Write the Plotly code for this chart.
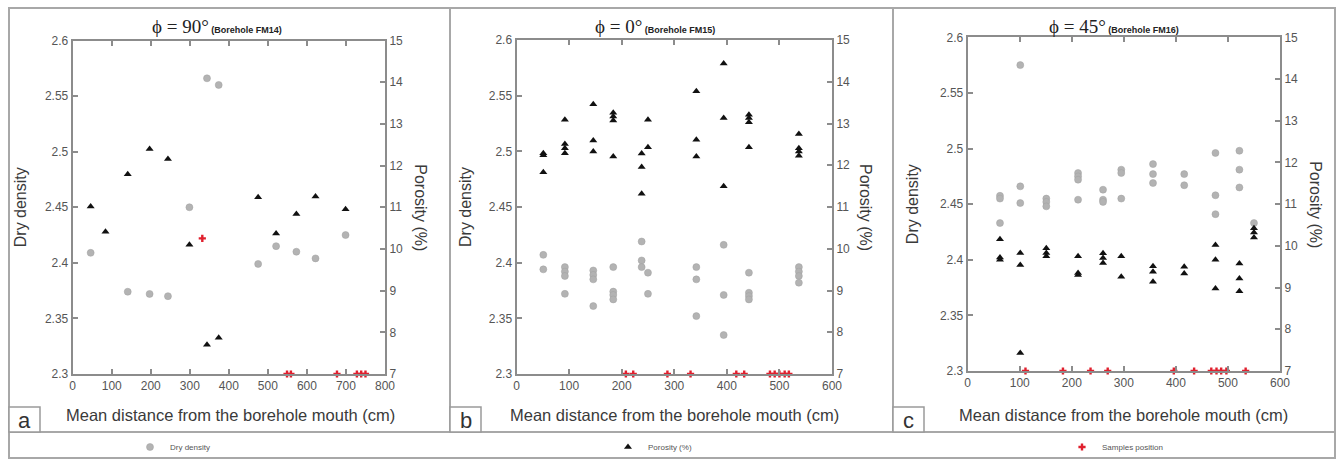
import plotly.graph_objects as go

# ---------------- data ----------------
# Borehole FM14 (phi = 90 deg)
a_density_dist = [46, 141, 197, 244, 299, 344, 374, 475, 521, 573, 622, 699]
a_density = [2.409, 2.374, 2.372, 2.370, 2.450, 2.566, 2.560, 2.399, 2.415, 2.410, 2.404, 2.425]
a_porosity_dist = [46, 84, 141, 197, 244, 299, 344, 374, 475, 521, 573, 622, 699]
a_porosity = [11.02, 10.41, 11.79, 12.40, 12.16, 10.10, 7.70, 7.87, 11.24, 10.37, 10.84, 11.26, 10.95]
a_samples_dist = [332, 549, 559, 677, 728, 739, 750]
a_samples_level = [2.422, 2.3, 2.3, 2.3, 2.3, 2.3, 2.3]

# Borehole FM15 (phi = 0 deg)
b_density_dist = [51, 51, 92, 92, 92, 92, 146, 146, 146, 146, 184, 184, 184, 184,
                  238, 238, 238, 250, 250, 342, 342, 342, 394, 394, 394,
                  442, 442, 442, 442, 537, 537, 537, 537]
b_density = [2.407, 2.394, 2.396, 2.392, 2.388, 2.372, 2.393, 2.389, 2.385, 2.361,
             2.396, 2.374, 2.371, 2.367, 2.419, 2.402, 2.396, 2.391, 2.372,
             2.396, 2.385, 2.352, 2.416, 2.371, 2.335,
             2.391, 2.373, 2.370, 2.367, 2.396, 2.392, 2.388, 2.382]
b_porosity_dist = [51, 51, 51, 92, 92, 92, 92, 146, 146, 146, 184, 184, 184, 184,
                   238, 238, 238, 250, 250, 342, 342, 342, 394, 394, 394,
                   442, 442, 442, 442, 537, 537, 537, 537]
b_porosity = [12.29, 12.24, 11.83, 13.09, 12.51, 12.41, 12.29, 13.46, 12.59, 12.33,
              13.26, 13.17, 13.07, 12.21, 12.28, 11.96, 11.32, 13.09, 12.43,
              13.77, 12.61, 12.21, 14.44, 13.13, 11.50,
              13.21, 13.13, 13.03, 12.43, 12.75, 12.41, 12.33, 12.23]
b_samples_dist = [208, 222, 287, 331, 418, 433, 482, 491, 500, 510, 518]
b_samples_level = [2.3] * len(b_samples_dist)

# Borehole FM16 (phi = 45 deg)
c_density_dist = [62, 62, 62, 101, 101, 101, 151, 151, 151, 212, 212, 212, 212,
                  260, 260, 260, 295, 295, 295, 356, 356, 356, 416, 416,
                  476, 476, 476, 522, 522, 522, 550]
c_density = [2.4575, 2.455, 2.433, 2.575, 2.466, 2.451, 2.455, 2.452, 2.448,
             2.478, 2.475, 2.472, 2.454, 2.463, 2.454, 2.452, 2.481, 2.478, 2.455,
             2.486, 2.477, 2.469, 2.477, 2.467, 2.496, 2.458, 2.441,
             2.498, 2.481, 2.465, 2.433]
c_porosity_dist = [62, 62, 62, 101, 101, 101, 151, 151, 151, 212, 212, 212,
                   260, 260, 260, 295, 295, 356, 356, 356, 416, 416,
                   476, 476, 476, 522, 522, 522, 550, 550, 550]
c_porosity = [10.16, 9.72, 9.67, 9.83, 9.54, 7.43, 9.94, 9.83, 9.75, 9.75, 9.35, 9.30,
              9.82, 9.71, 9.59, 9.75, 9.26, 9.51, 9.38, 9.14, 9.50, 9.34,
              10.02, 9.67, 8.98, 9.58, 9.22, 8.91, 10.42, 10.32, 10.20]
c_samples_dist = [111, 183, 236, 269, 396, 435, 468, 478, 487, 497, 534]
c_samples_level = [2.3] * len(c_samples_dist)

panel_angles = ["90", "0", "45"]
panel_boreholes = ["FM14", "FM15", "FM16"]
panel_letters = ["a", "b", "c"]
panel_xmax = [800, 600, 600]

density_ticks = [2.3, 2.35, 2.4, 2.45, 2.5, 2.55, 2.6]
porosity_ticks = [7, 8, 9, 10, 11, 12, 13, 14, 15]

series = [
    (a_density_dist, a_density, a_porosity_dist, a_porosity, a_samples_dist, a_samples_level),
    (b_density_dist, b_density, b_porosity_dist, b_porosity, b_samples_dist, b_samples_level),
    (c_density_dist, c_density, c_porosity_dist, c_porosity, c_samples_dist, c_samples_level),
]

# ---------------- layout geometry (pixels) ----------------
W, H = 1342, 461
# plot area of each panel: left, right, top, bottom
plot_px = [(72.7, 385, 40.5, 374), (516.5, 832, 40, 374), (967.7, 1280, 37.3, 371)]
# panel frames: left, right
frame_px = [(9, 450), (450, 893), (893, 1335)]
frame_top, frame_bottom, legend_bottom = 8, 432, 458
title_left = [150, 593, 1047]
title_y = 26
ytitle_left_x = [20, 465, 912]
ytitle_right_x = [421, 866, 1316]
xtitle_x = [230, 674, 1123]
legend_left = [130, 608, 1062]


def px(x):
    return x / W


def py(y):
    return 1 - y / H


AXIS_COLOR = "#8c8c8c"
TICK_FONT = dict(family="Liberation Sans, Arial, sans-serif", size=12, color="#555555")
TEXT_COLOR = "#3a3a3a"

fig = go.Figure()
layout = dict(
    width=W, height=H,
    margin=dict(l=0, r=0, t=0, b=0, autoexpand=False),
    paper_bgcolor="white", plot_bgcolor="white",
    showlegend=True,
    font=dict(family="Liberation Sans, Arial, sans-serif"),
)

annotations = []
shapes = []

for i in range(3):
    xn = "x" if i == 0 else f"x{i + 1}"
    yl = "y" if i == 0 else f"y{2 * i + 1}"
    yr = f"y{2 * i + 2}"
    xkey = "xaxis" if i == 0 else f"xaxis{i + 1}"
    ylkey = "yaxis" if i == 0 else f"yaxis{2 * i + 1}"
    yrkey = f"yaxis{2 * i + 2}"
    l, r, t, b = plot_px[i]

    layout[xkey] = dict(
        domain=[px(l), px(r)], range=[0, panel_xmax[i]], dtick=100, tick0=0,
        anchor=yl, showline=True, linecolor=AXIS_COLOR, linewidth=2, mirror="ticks",
        ticks="inside", ticklen=5, tickwidth=1.5, tickcolor=AXIS_COLOR,
        showgrid=False, zeroline=False, tickfont=TICK_FONT,
    )
    layout[ylkey] = dict(
        domain=[py(b), py(t)], range=[2.3, 2.6], tickvals=density_ticks,
        anchor=xn, showline=True, linecolor=AXIS_COLOR, linewidth=2,
        ticks="inside", ticklen=5, tickwidth=1.5, tickcolor=AXIS_COLOR,
        showgrid=False, zeroline=False, tickfont=TICK_FONT,
    )
    layout[yrkey] = dict(
        domain=[py(b), py(t)], range=[7, 15], tickvals=porosity_ticks,
        anchor=xn, overlaying=yl, side="right", showline=True,
        linecolor=AXIS_COLOR, linewidth=2,
        ticks="inside", ticklen=5, tickwidth=1.5, tickcolor=AXIS_COLOR,
        showgrid=False, zeroline=False, tickfont=TICK_FONT,
    )

    dd, dv, pd_, pv, sd, sv = series[i]
    first = i == 0
    fig.add_trace(go.Scatter(
        x=dd, y=dv, mode="markers", name="Dry density", legend="legend",
        showlegend=first, xaxis=xn, yaxis=yl, cliponaxis=False,
        marker=dict(symbol="circle", size=7, color="#b3b3b3",
                    line=dict(color="#a0a0a0", width=0.5)),
    ))
    fig.add_trace(go.Scatter(
        x=pd_, y=pv, mode="markers", name="Porosity (%)", legend="legend2",
        showlegend=first, xaxis=xn, yaxis=yr, cliponaxis=False,
        marker=dict(symbol="triangle-up", size=7, color="#111111"),
    ))
    fig.add_trace(go.Scatter(
        x=sd, y=sv, mode="markers", name="Samples position", legend="legend3",
        showlegend=first, xaxis=xn, yaxis=yl, cliponaxis=False,
        marker=dict(symbol="cross", size=6, color="#e0202e"),
    ))

    # panel title
    annotations.append(dict(
        x=px(title_left[i]), y=py(title_y), xref="paper", yref="paper",
        xanchor="left", yanchor="middle", showarrow=False,
        text=(f"<span style='font-family:Liberation Serif, Times New Roman, serif;"
              f"font-size:19px'>ϕ = {panel_angles[i]}°</span> "
              f"<b>(Borehole {panel_boreholes[i]})</b>"),
        font=dict(size=9, color="#222222", family="Liberation Sans, Arial, sans-serif"),
    ))
    # axis titles
    annotations.append(dict(
        x=px(ytitle_left_x[i]), y=py((t + b) / 2), xref="paper", yref="paper",
        text="Dry density", textangle=-90, showarrow=False,
        xanchor="center", yanchor="middle",
        font=dict(size=16, color=TEXT_COLOR),
    ))
    annotations.append(dict(
        x=px(ytitle_right_x[i]), y=py((t + b) / 2), xref="paper", yref="paper",
        text="Porosity (%)", textangle=90, showarrow=False,
        xanchor="center", yanchor="middle",
        font=dict(size=16, color=TEXT_COLOR),
    ))
    annotations.append(dict(
        x=px(xtitle_x[i]), y=py(415), xref="paper", yref="paper",
        text="Mean distance from the borehole mouth (cm)", showarrow=False,
        xanchor="center", yanchor="middle",
        font=dict(size=16.5, color=TEXT_COLOR),
    ))
    # panel letter box
    fl, fr = frame_px[i]
    shapes.append(dict(
        type="rect", xref="paper", yref="paper",
        x0=px(fl), x1=px(fl + 31), y0=py(frame_bottom), y1=py(407),
        line=dict(color="#9a9a9a", width=1.5), fillcolor="white",
    ))
    annotations.append(dict(
        x=px(fl + 15.5), y=py(420), xref="paper", yref="paper",
        text=panel_letters[i], showarrow=False, xanchor="center", yanchor="middle",
        font=dict(size=22, color="#333333"),
    ))
    # panel frame
    shapes.append(dict(
        type="rect", xref="paper", yref="paper", layer="below",
        x0=px(fl), x1=px(fr), y0=py(frame_bottom), y1=py(frame_top),
        line=dict(color="#a8a8a8", width=2),
    ))

# legend strip frame
shapes.append(dict(
    type="rect", xref="paper", yref="paper", layer="below",
    x0=px(9), x1=px(1335), y0=py(legend_bottom), y1=py(frame_bottom),
    line=dict(color="#a8a8a8", width=2),
))

layout["annotations"] = annotations
layout["shapes"] = shapes
for k, key in enumerate(["legend", "legend2", "legend3"]):
    layout[key] = dict(
        orientation="h", x=px(legend_left[k]), y=py(447),
        xanchor="left", yanchor="middle",
        font=dict(size=8, color="#555555"), bgcolor="rgba(0,0,0,0)",
        itemwidth=30,
    )

fig.update_layout(**layout)
fig.write_html("out.html")
